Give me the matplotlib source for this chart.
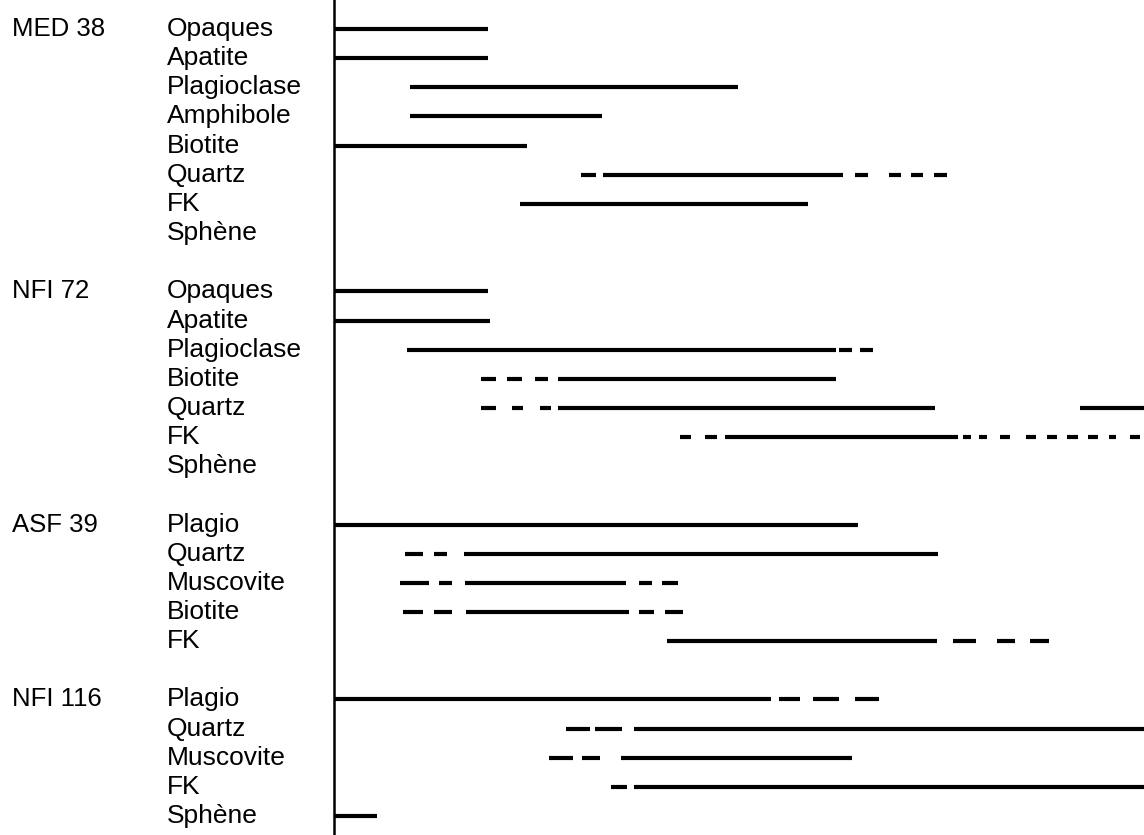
import matplotlib
matplotlib.use("Agg")
import matplotlib.pyplot as plt

plt.rcParams['font.family'] = ['Liberation Sans', 'DejaVu Sans']

# samples and their minerals (top to bottom)
samples = ["MED 38", "NFI 72", "ASF 39", "NFI 116"]
med38_minerals = ["Opaques", "Apatite", "Plagioclase", "Amphibole", "Biotite", "Quartz", "FK", "Sphène"]
nfi72_minerals = ["Opaques", "Apatite", "Plagioclase", "Biotite", "Quartz", "FK", "Sphène"]
asf39_minerals = ["Plagio", "Quartz", "Muscovite", "Biotite", "FK"]
nfi116_minerals = ["Plagio", "Quartz", "Muscovite", "FK", "Sphène"]

# crystallisation intervals, one list of pieces (start, end) per mineral;
# short pieces are the dashes of the uncertain parts
med38_pieces = [
    [(0, 154)],
    [(0, 154)],
    [(76, 404)],
    [(76, 268)],
    [(0, 193)],
    [(247, 262), (269, 509), (521, 534), (555, 567), (577, 589), (600, 613)],
    [(186, 474)],
    [],
]
nfi72_pieces = [
    [(0, 154)],
    [(0, 156)],
    [(73, 502), (505, 518), (526, 539)],
    [(147, 162), (173, 188), (201, 214), (224, 502)],
    [(147, 162), (178, 189), (206, 217), (224, 601), (746, 815)],
    [(346, 357), (371, 383), (391, 624), (629, 637), (645, 653), (666, 676), (692, 702),
     (713, 723), (733, 744), (754, 764), (775, 782), (796, 806)],
    [],
]
asf39_pieces = [
    [(0, 524)],
    [(71, 89), (100, 113), (130, 604)],
    [(66, 95), (105, 118), (131, 292), (305, 318), (328, 344)],
    [(69, 89), (100, 118), (132, 295), (305, 320), (331, 349)],
    [(333, 603), (619, 642), (663, 681), (696, 715)],
]
nfi116_pieces = [
    [(0, 437), (445, 466), (479, 505), (521, 545)],
    [(232, 256), (261, 288), (300, 815)],
    [(215, 239), (248, 266), (287, 518)],
    [(277, 293), (300, 815)],
    [(0, 43)],
]

groups = [
    (samples[0], med38_minerals, med38_pieces),
    (samples[1], nfi72_minerals, nfi72_pieces),
    (samples[2], asf39_minerals, asf39_pieces),
    (samples[3], nfi116_minerals, nfi116_pieces),
]

fig = plt.figure(figsize=(11.44, 8.35), dpi=100)
ax = fig.add_axes([0, 0, 1, 1])

row = 0
for sample, minerals, pieces in groups:
    ax.text(-322, row, sample, fontsize=18.5, va='center', ha='left')
    for name, segs in zip(minerals, pieces):
        ax.text(-167, row, name, fontsize=19, va='center', ha='left')
        for start, end in segs:
            ax.hlines(row, start, end, colors='black', linewidth=3.0)
        row += 1
    row += 1  # blank line between samples

# vertical reference line
ax.axvline(0, color='black', linewidth=1.8)

ax.set_xlim(-334, 810)
ax.set_ylim(27.65, -0.995)
ax.axis('off')

fig.savefig("out.png", dpi=100)
